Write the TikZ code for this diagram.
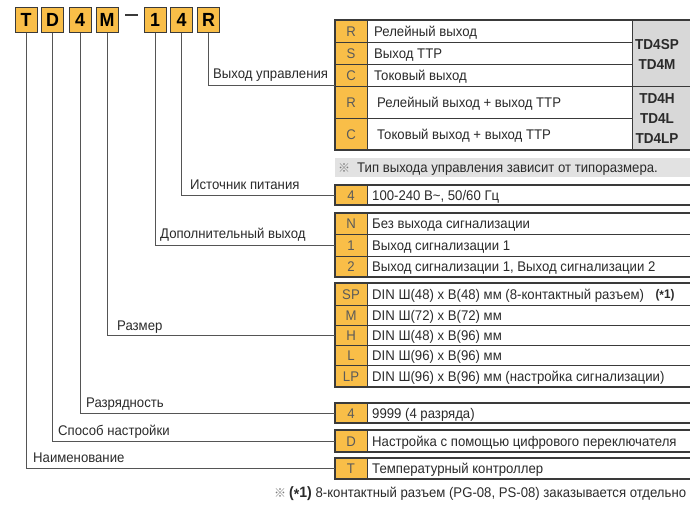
\documentclass[tikz,border=0pt]{standalone}
\usepackage{fontspec}
\setmainfont{Liberation Sans}[FakeStretch=0.94]
\newfontfamily\cjkf{Noto Sans CJK JP}
\definecolor{orng}{HTML}{F9BE48}
\definecolor{frc}{HTML}{3A3A3A}
\definecolor{lnc}{HTML}{555555}
\definecolor{codetxt}{HTML}{5A5A5A}
\definecolor{txtc}{HTML}{2A2A2A}
\definecolor{grayc}{HTML}{D8D8D8}
\definecolor{noteg}{HTML}{E2E2E2}
\definecolor{notemark}{HTML}{7A7A7A}
\tikzset{
  frame/.style={draw=frc, line width=1.3pt, inner sep=0pt, outer sep=0pt, anchor=north west, minimum width=365pt},
  sep/.style={draw=frc, line width=0.8pt},
  conn/.style={draw=lnc, line width=0.9pt},
  code/.style={anchor=base, inner sep=0pt, text=codetxt, font=\fontsize{14}{14}\selectfont},
  desc/.style={anchor=base west, inner sep=0pt, text=txtc, font=\fontsize{14}{14}\selectfont},
  lbl/.style={anchor=base west, inner sep=0pt, text=txtc, font=\fontsize{14}{14}\selectfont},
  gtxt/.style={anchor=base, inner sep=0pt, text=txtc, font=\bfseries\fontsize{14.4}{14}\selectfont},
  topbox/.style={fill=orng, draw=frc, line width=1pt, minimum width=22pt, minimum height=25pt, inner sep=0pt, font=\bfseries\fontsize{19}{19}\selectfont}
}
\begin{document}
\begin{tikzpicture}[x=1pt,y=-1pt]
\useasboundingbox (0,0) rectangle (690,506);
\clip (0,0) rectangle (690,506);

% ---- top code boxes
\node[topbox] (t1) at (26,19.5) {T};
\node[topbox] (t2) at (52.5,19.5) {D};
\node[topbox] (t3) at (80,19.5) {4};
\node[topbox] (t4) at (107,19.5) {M};
\draw[frc, line width=1.6pt] (125,15) -- (138,15);
\node[topbox] (t5) at (155,19.5) {1};
\node[topbox] (t6) at (181.5,19.5) {4};
\node[topbox] (t7) at (208.5,19.5) {R};

% ---- table 1: control output
\fill[orng] (335,20) rectangle (367,150);
\fill[grayc] (632,20) rectangle (700,150);
\draw[sep] (335,42) -- (632,42);
\draw[sep] (335,64) -- (632,64);
\draw[sep] (335,86) -- (700,86);
\draw[sep] (335,118) -- (632,118);
\draw[sep] (367,20) -- (367,150);
\draw[sep] (632,20) -- (632,150);
\node[code] (c1a) at (351,36) {R};
\node[code] (c1b) at (351,58) {S};
\node[code] (c1c) at (351,80) {C};
\node[code] (c1d) at (351,107) {R};
\node[code] (c1e) at (351,139) {C};
\node[desc] (d1a) at (374,36) {Релейный выход};
\node[desc] (d1b) at (374,58) {Выход ТТР};
\node[desc] (d1c) at (374,80) {Токовый выход};
\node[desc] (d1d) at (377,107) {Релейный выход + выход ТТР};
\node[desc] (d1e) at (377,139) {Токовый выход + выход ТТР};
\node[gtxt] (g1) at (657,49) {TD4SP};
\node[gtxt] (g2) at (657,69) {TD4M};
\node[gtxt] (g3) at (657,103) {TD4H};
\node[gtxt] (g4) at (657,123) {TD4L};
\node[gtxt] (g5) at (657,143) {TD4LP};
\node[frame, minimum height=130pt] (fr1) at (335,20) {};

% note band
\fill[noteg] (335,158) rectangle (700,177);
\node[lbl, text=notemark, font=\cjkf\fontsize{12}{12}\selectfont] (nm) at (338,172) {※};
\node[lbl] (nt) at (357,172) {Тип выхода управления зависит от типоразмера.};

% ---- table 2: power
\fill[orng] (335,185) rectangle (367,205);
\draw[sep] (367,185) -- (367,205);
\node[code] (c2a) at (351,200) {4};
\node[desc] (d2a) at (372,200) {100-240 В\textasciitilde, 50/60 Гц};
\node[frame, minimum height=20pt] (fr2) at (335,185) {};

% ---- table 3: alarm output
\fill[orng] (335,213) rectangle (367,277);
\draw[sep] (335,234) -- (700,234);
\draw[sep] (335,256) -- (700,256);
\draw[sep] (367,213) -- (367,277);
\node[code] (c3a) at (351,228.5) {N};
\node[code] (c3b) at (351,250) {1};
\node[code] (c3c) at (351,271.5) {2};
\node[desc] (d3a) at (372,228.5) {Без выхода сигнализации};
\node[desc] (d3b) at (372,250) {Выход сигнализации 1};
\node[desc] (d3c) at (372,271.5) {Выход сигнализации 1, Выход сигнализации 2};
\node[frame, minimum height=64pt] (fr3) at (335,213) {};

% ---- table 4: size
\fill[orng] (335,283) rectangle (367,387);
\draw[sep] (335,305) -- (700,305);
\draw[sep] (335,325) -- (700,325);
\draw[sep] (335,345) -- (700,345);
\draw[sep] (335,365) -- (700,365);
\draw[sep] (367,283) -- (367,387);
\node[code] (c4a) at (351,299) {SP};
\node[code] (c4b) at (351,320) {M};
\node[code] (c4c) at (351,340) {H};
\node[code] (c4d) at (351,360) {L};
\node[code] (c4e) at (351,381) {LP};
\node[desc] (d4a) at (372,299) {DIN Ш(48) x В(48) мм (8-контактный разъем)};
\node[gtxt, font=\bfseries\fontsize{12.5}{12}\selectfont] (d4n) at (665,298) {(\raisebox{-0.3ex}{*}1)};
\node[desc] (d4b) at (372,320) {DIN Ш(72) x В(72) мм};
\node[desc] (d4c) at (372,340) {DIN Ш(48) x В(96) мм};
\node[desc] (d4d) at (372,360) {DIN Ш(96) x В(96) мм};
\node[desc] (d4e) at (372,381) {DIN Ш(96) x В(96) мм (настройка сигнализации)};
\node[frame, minimum height=104pt] (fr4) at (335,283) {};

% ---- table 5: digits
\fill[orng] (335,403) rectangle (367,423);
\draw[sep] (367,403) -- (367,423);
\node[code] (c5a) at (351,418) {4};
\node[desc] (d5a) at (372,418) {9999 (4 разряда)};
\node[frame, minimum height=20pt] (fr5) at (335,403) {};

% ---- table 6: setting method
\fill[orng] (335,430) rectangle (367,452);
\draw[sep] (367,430) -- (367,452);
\node[code] (c6a) at (351,446) {D};
\node[desc] (d6a) at (372,446) {Настройка с помощью цифрового переключателя};
\node[frame, minimum height=22pt] (fr6) at (335,430) {};

% ---- table 7: name
\fill[orng] (335,458) rectangle (367,479);
\draw[sep] (367,458) -- (367,479);
\node[code] (c7a) at (351,473.5) {T};
\node[desc] (d7a) at (372,473.5) {Температурный контроллер};
\node[frame, minimum height=21pt] (fr7) at (335,458) {};

% ---- connectors
\draw[conn] (t7.south) |- (fr1.west);
\draw[conn] (t6.south) |- (fr2.west);
\draw[conn] (t5.south) |- (fr3.west);
\draw[conn] (t4.south) |- (fr4.west);
\draw[conn] (t3.south) |- (fr5.west);
\draw[conn] (t2.south) |- (fr6.west);
\draw[conn] (t1.south) |- (fr7.west);

% ---- connector labels
\node[lbl] (l1) at (213,78) {Выход управления};
\node[lbl] (l2) at (190,189) {Источник питания};
\node[lbl] (l3) at (160,238) {Дополнительный выход};
\node[lbl] (l4) at (117,330) {Размер};
\node[lbl] (l5) at (86,407) {Разрядность};
\node[lbl] (l6) at (58,435) {Способ настройки};
\node[lbl] (l7) at (33,462) {Наименование};

% ---- footnote
\node[lbl, text=notemark, font=\cjkf\fontsize{12}{12}\selectfont] (fm) at (274,497) {※};
\node[lbl] (fn) at (289,497) {\textbf{\fontsize{15}{15}\selectfont(\raisebox{-0.3ex}{*}1)} 8-контактный разъем (PG-08, PS-08) заказывается отдельно};
\end{tikzpicture}
\end{document}
